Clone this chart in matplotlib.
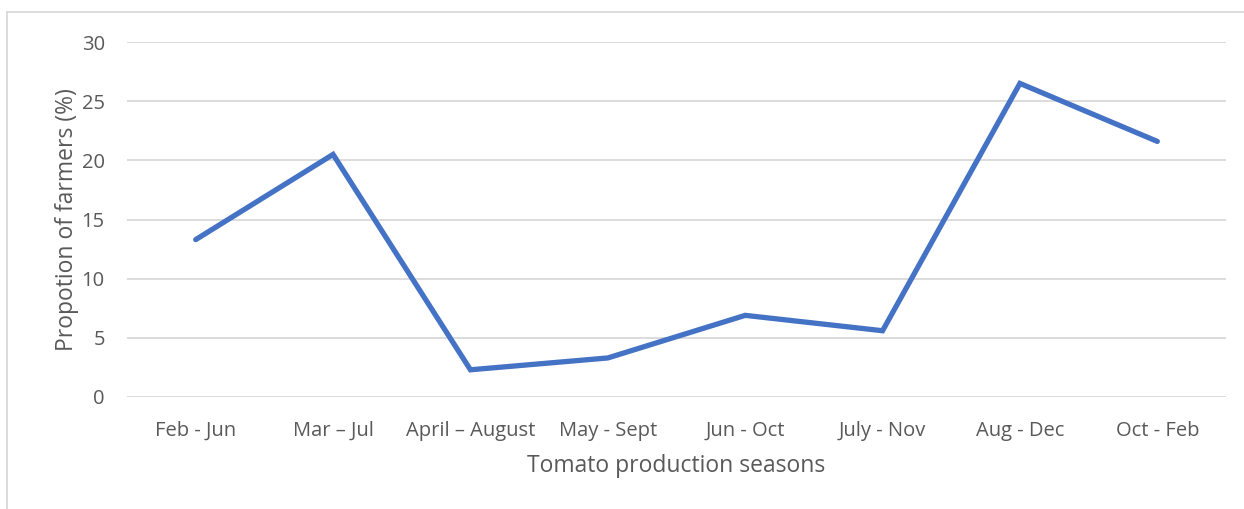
import matplotlib.pyplot as plt
from matplotlib.lines import Line2D

seasons = ['Feb - Jun', 'Mar \u2013 Jul', 'April \u2013 August', 'May - Sept',
           'Jun - Oct', 'July - Nov', 'Aug - Dec', 'Oct - Feb']
farmers_pct = [13.3, 20.5, 2.3, 3.3, 6.9, 5.6, 26.5, 21.6]

plt.rcParams['font.family'] = ['Open Sans', 'DejaVu Sans']
text_color = '#595959'

fig = plt.figure(figsize=(12.44, 5.09), dpi=100)
W, H = 1244, 509
ax = fig.add_axes([127 / W, 1 - 397 / H, (1226 - 127) / W, (397 - 42) / H])

ax.plot(range(len(seasons)), farmers_pct, color='#4472C4', linewidth=3.8,
        solid_joinstyle='miter', solid_capstyle='round')

ax.set_xlim(-0.5, len(seasons) - 0.5)
ax.set_ylim(0, 30)
ax.set_yticks(range(0, 31, 5))
ax.set_xticks(range(len(seasons)))
ax.set_xticklabels(seasons)
ax.grid(axis='y', color='#D9D9D9', linewidth=1.3)
ax.set_axisbelow(True)
for s in ax.spines.values():
    s.set_visible(False)
ax.tick_params(length=0, labelsize=14.5, colors=text_color)
ax.tick_params(axis='x', pad=17)
ax.tick_params(axis='y', pad=16)

ax.set_xlabel('Tomato production seasons', fontsize=16.5, color=text_color, labelpad=10)
ax.set_ylabel('Propotion of farmers (%)', fontsize=16.5, color=text_color, labelpad=2)

# outer chart border (top and left visible)
fig.add_artist(Line2D([7 / W, 1], [1 - 12 / H, 1 - 12 / H], color='#D9D9D9', linewidth=1.3))
fig.add_artist(Line2D([7 / W, 7 / W], [0, 1 - 12 / H], color='#D9D9D9', linewidth=1.3))

fig.savefig('out.png', dpi=100)
